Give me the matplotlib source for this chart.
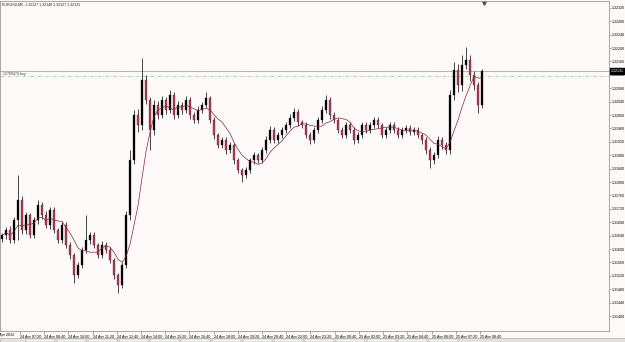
import matplotlib
matplotlib.use('Agg')
import matplotlib.pyplot as plt
import matplotlib.transforms as mtransforms
from matplotlib.patches import Rectangle
import numpy as np
import pandas as pd

plt.rcParams['font.family'] = ['Liberation Sans', 'DejaVu Sans']

# EURUSD close prices, one per candle
closes = [1.31641, 1.31656, 1.31627, 1.31686, 1.31746, 1.31656, 1.31701, 1.31641, 1.31686, 1.31731,
          1.31701, 1.31671, 1.31716, 1.31656, 1.31627, 1.31671, 1.31612, 1.31582, 1.31522, 1.31552,
          1.31597, 1.31627, 1.31641, 1.31612, 1.31582, 1.31612, 1.31597, 1.31567, 1.31522, 1.31492,
          1.31552, 1.31701, 1.31865, 1.32000, 1.31970, 1.32104, 1.32044, 1.31955, 1.32030, 1.32000,
          1.32044, 1.32015, 1.32059, 1.32000, 1.32030, 1.32015, 1.32044, 1.32000, 1.31985, 1.32015,
          1.32030, 1.32050, 1.31985, 1.31940, 1.31910, 1.31925, 1.31895, 1.31910, 1.31865, 1.31836,
          1.31821, 1.31836, 1.31865, 1.31880, 1.31865, 1.31895, 1.31925, 1.31955, 1.31925, 1.31940,
          1.31955, 1.31970, 1.31991, 1.32009, 1.31979, 1.31970, 1.31940, 1.31925, 1.31955, 1.31985,
          1.32015, 1.32044, 1.32000, 1.31985, 1.31955, 1.31940, 1.31970, 1.31955, 1.31925, 1.31940,
          1.31970, 1.31955, 1.31970, 1.31985, 1.31970, 1.31940, 1.31955, 1.31970, 1.31955, 1.31940,
          1.31955, 1.31961, 1.31949, 1.31955, 1.31940, 1.31925, 1.31895, 1.31865, 1.31880, 1.31925,
          1.31910, 1.31895, 1.32059, 1.32134, 1.32089, 1.32149, 1.32164, 1.32119, 1.32089, 1.32030,
          1.32131]
first_open = 1.31630

# wick lengths in points (1e-5) above / below the body
upper_wicks = [8, 10, 14, 9, 75, 12, 10, 8, 11, 15,
               9, 12, 8, 10, 7, 12, 9, 8, 6, 10,
               8, 74, 10, 9, 7, 11, 8, 9, 6, 7,
               10, 12, 30, 15, 18, 66, 14, 10, 16, 12,
               12, 10, 15, 9, 11, 8, 12, 10, 9, 11,
               10, 18, 8, 9, 7, 10, 8, 9, 6, 8,
               7, 9, 8, 10, 8, 9, 11, 12, 8, 9,
               10, 9, 11, 12, 8, 7, 9, 8, 10, 9,
               11, 15, 9, 8, 7, 9, 10, 8, 9, 8,
               10, 8, 9, 9, 8, 7, 9, 8, 10, 8,
               9, 8, 10, 9, 8, 7, 8, 9, 10, 12,
               9, 10, 16, 24, 18, 30, 39, 14, 12, 10,
               6]
lower_wicks = [9, 12, 10, 8, 59, 10, 12, 9, 8, 11,
               10, 9, 12, 8, 10, 9, 8, 11, 24, 9,
               10, 8, 12, 9, 10, 8, 9, 10, 11, 24,
               9, 10, 14, 12, 20, 15, 12, 60, 14, 13,
               10, 12, 9, 11, 10, 12, 9, 11, 10, 9,
               8, 9, 10, 11, 9, 8, 10, 9, 11, 10,
               21, 9, 8, 10, 9, 8, 9, 10, 9, 8,
               9, 10, 8, 9, 11, 10, 9, 12, 8, 9,
               10, 9, 11, 8, 10, 9, 8, 10, 11, 9,
               8, 9, 10, 8, 9, 10, 8, 9, 10, 9,
               8, 9, 10, 8, 9, 11, 12, 23, 10, 9,
               10, 11, 12, 14, 20, 16, 12, 18, 15, 24,
               10]

time_labels = ["24 Apr 07:20", "24 Apr 08:40", "24 Apr 10:00", "24 Apr 11:20", "24 Apr 12:40",
               "24 Apr 14:00", "24 Apr 15:20", "24 Apr 16:40", "24 Apr 18:00", "24 Apr 19:20",
               "24 Apr 20:40", "24 Apr 22:00", "24 Apr 23:20", "25 Apr 00:40", "25 Apr 02:00",
               "25 Apr 03:20", "25 Apr 04:40", "25 Apr 06:00", "25 Apr 07:20", "25 Apr 08:40"]
# minutes after 24 Apr 06:00
time_minutes = [80 * (k + 1) for k in range(len(time_labels))]

bid = 1.32131
order_price = 1.32115
header = "EURUSD,M5  1.32127 1.32140 1.32127 1.32131"

BG = '#fdf9f8'
BULL = '#000000'
BEAR = '#b53a5a'
MA_COLOR = '#8a2438'

opens = [first_open] + closes[:-1]
o = np.array(opens)
c = np.array(closes)
highs = np.maximum(o, c) + np.array(upper_wicks) * 1e-5
lows = np.minimum(o, c) - np.array(lower_wicks) * 1e-5
idx = np.arange(len(c))
ma = pd.Series(c).rolling(7, min_periods=1).mean()

fig = plt.figure(figsize=(6.25, 3.42), dpi=100)
fig.patch.set_facecolor(BG)
ax = fig.add_axes([0, 11 / 342, 609 / 625, 330 / 342])
ax.set_facecolor(BG)

# candles
ax.vlines(idx, lows, highs, color='black', linewidth=0.5, zorder=2)
up = c >= o
ax.bar(idx[up], (c - o)[up], bottom=o[up], width=0.45, color=BULL,
       edgecolor=BULL, linewidth=0.2, zorder=3)
ax.bar(idx[~up], (o - c)[~up], bottom=c[~up], width=0.45, color=BEAR,
       edgecolor='#3a0a12', linewidth=0.2, zorder=3)
ax.plot(idx, ma, color=MA_COLOR, linewidth=0.5, zorder=4)

# price lines
ax.axhline(bid, color='#a8a8b4', linewidth=0.6, zorder=1)
ax.axhline(order_price, color='#9ccf9c', linewidth=0.6,
           linestyle=(0, (4, 2, 1, 2)), zorder=1)
ax.text(0.2, (bid + order_price) / 2, "12789474 buy", fontsize=2.6, color='#404040',
        va='center', ha='left')

ax.set_xlim(-0.5, 151.75)
ax.set_ylim(1.313553, 1.323403)

# time axis
candle_minutes = 13.22
first_candle_minute = 20.5
ax.set_xticks([(t - first_candle_minute) / candle_minutes for t in time_minutes])
ax.set_xticklabels(time_labels, ha='left', fontsize=2.7)
ax.tick_params(axis='x', length=2, width=0.4, pad=0.8, color='#606060')
fig.text(-6 / 625, 7 / 342, "24 Apr 2012", fontsize=2.7, ha='left', va='center')

# price axis
ax.yaxis.tick_right()
yt = np.arange(1.31400, 1.32330, 0.0004)
ax.set_yticks(yt)
ax.set_yticklabels([f"{v:.5f}" for v in yt], fontsize=2.6)
ax.tick_params(axis='y', length=1.5, width=0.4, pad=0.8, color='#606060')

trans = mtransforms.blended_transform_factory(ax.transAxes, ax.transData)
ax.text(1.003, bid, f"{bid:.5f}", transform=trans, fontsize=2.6, color='white',
        va='center', ha='left', zorder=10,
        bbox=dict(boxstyle='square,pad=0.2', facecolor='black', edgecolor='black'))

trans2 = mtransforms.blended_transform_factory(ax.transData, ax.transAxes)
ax.plot([len(c) - 0.6], [0.995], marker='v', color='#505050', markersize=2.5,
        transform=trans2, clip_on=False)

for s in ax.spines.values():
    s.set_color('#9a9a9a')
    s.set_linewidth(0.6)

fig.text(2 / 625, 1 - 4.5 / 342, header, fontsize=2.6, ha='left', va='center', color='#202020')

# tab bar at the bottom
fig.patches.append(Rectangle((0, 0), 1, 4 / 342, transform=fig.transFigure,
                             facecolor='#e4e2de', edgecolor='#a0a0a0', linewidth=0.4))
for k in range(14):
    x0 = (26 + 31 * k) / 625
    fig.patches.append(Rectangle((x0, 0), 29 / 625, 3.5 / 342, transform=fig.transFigure,
                                 facecolor='#f6f5f2', edgecolor='#9a9a9a', linewidth=0.3))

plt.savefig('out.png', dpi=100, facecolor=BG)
